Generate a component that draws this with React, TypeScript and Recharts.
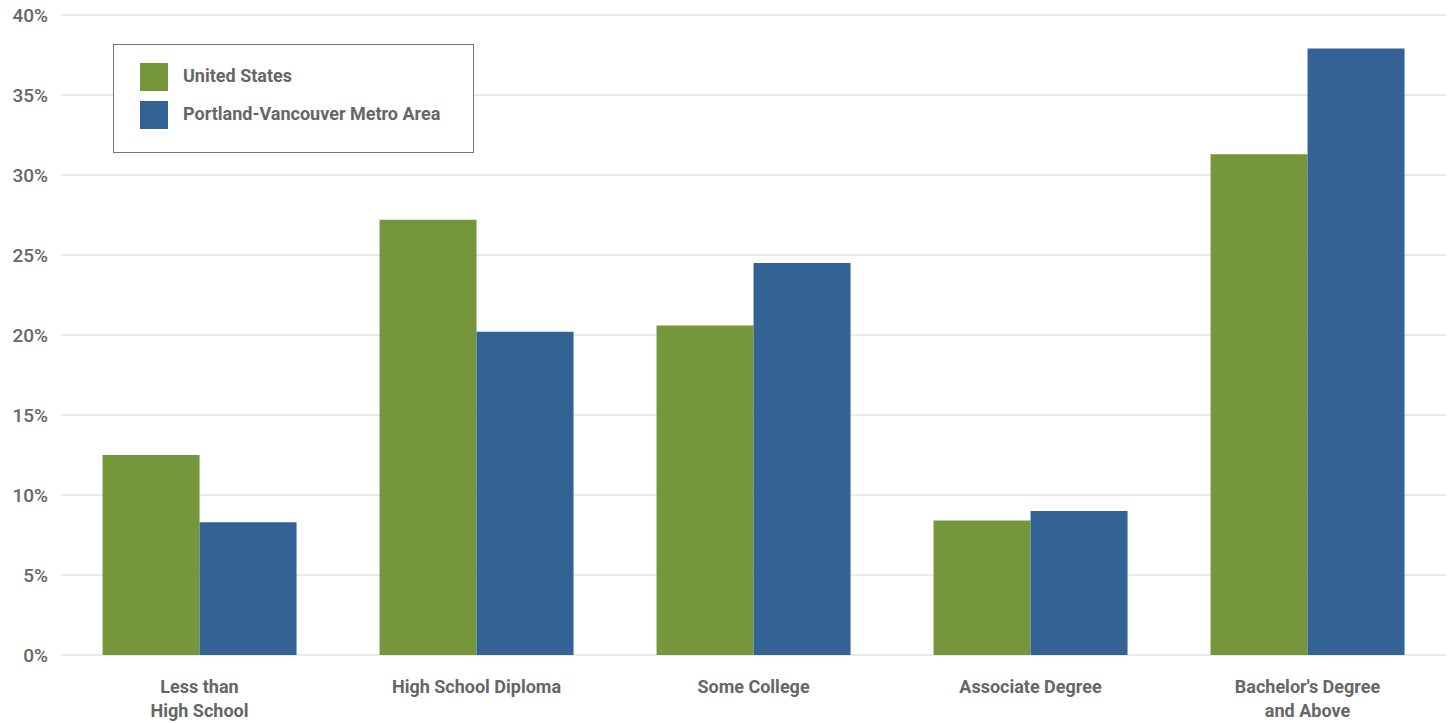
import { BarChart, Bar, XAxis, YAxis, CartesianGrid } from 'recharts'

const categories = ['Less than\nHigh School', 'High School Diploma', 'Some College', 'Associate Degree', "Bachelor's Degree\nand Above"]
const unitedStates = [12.5, 27.2, 20.6, 8.4, 31.3]
const portlandMetro = [8.3, 20.2, 24.5, 9.0, 37.9]
const yTicks = [0, 5, 10, 15, 20, 25, 30, 35, 40]
const seriesNames = ['United States', 'Portland-Vancouver Metro Area']

const GREEN = '#76963c'
const BLUE = '#336294'
const TEXT = '#666666'
const FONT = 'Roboto, "Liberation Sans", sans-serif'

const data = categories.map((name, i) => ({
  name,
  us: unitedStates[i],
  metro: portlandMetro[i],
}))

function CategoryTick({ x, y, payload }: { x?: number; y?: number; payload?: { value: string } }) {
  const lines = String(payload?.value ?? '').split('\n')
  return (
    <text x={x} y={(y ?? 0) + 30} textAnchor="middle" fill={TEXT} fontFamily={FONT} fontSize={18} fontWeight={700}>
      {lines.map((line, i) => (
        <tspan key={i} x={x} dy={i === 0 ? 0 : 24}>
          {line}
        </tspan>
      ))}
    </text>
  )
}

function LegendBox() {
  const colors = [GREEN, BLUE]
  return (
    <div
      style={{
        position: 'absolute',
        left: 113,
        top: 44,
        width: 361,
        height: 109,
        border: '1px solid #777',
        background: '#fff',
        boxSizing: 'border-box',
        padding: '18px 0 0 26px',
      }}
    >
      {seriesNames.map((label, i) => (
        <div key={label} style={{ display: 'flex', alignItems: 'center', height: 28, marginBottom: 10 }}>
          <span style={{ width: 28, height: 28, background: colors[i], display: 'inline-block' }} />
          <span style={{ marginLeft: 15, marginTop: -3, fontFamily: FONT, fontSize: 18, fontWeight: 700, color: TEXT }}>{label}</span>
        </div>
      ))}
    </div>
  )
}

export default function App() {
  return (
    <div style={{ position: 'absolute', left: 0, top: 0, width: 1452, height: 723, background: '#fff' }}>
      <BarChart
        width={1452}
        height={723}
        data={data}
        margin={{ top: 15, right: 6, bottom: 0, left: 0 }}
        barCategoryGap="15%"
        barGap={0}
      >
        <CartesianGrid vertical={false} stroke="#e3e3e3" strokeWidth={1.5} />
        <XAxis dataKey="name" axisLine={false} tickLine={false} height={68} interval={0} tick={<CategoryTick />} />
        <YAxis
          domain={[0, 40]}
          ticks={yTicks}
          width={61}
          axisLine={false}
          tickLine={false}
          tickFormatter={(v: number) => `${v}%`}
          tick={{ fill: TEXT, fontFamily: FONT, fontSize: 19, fontWeight: 500 }}
          tickMargin={7}
        />
        <Bar dataKey="us" name={seriesNames[0]} fill={GREEN} isAnimationActive={false} />
        <Bar dataKey="metro" name={seriesNames[1]} fill={BLUE} isAnimationActive={false} />
      </BarChart>
      <LegendBox />
    </div>
  )
}
